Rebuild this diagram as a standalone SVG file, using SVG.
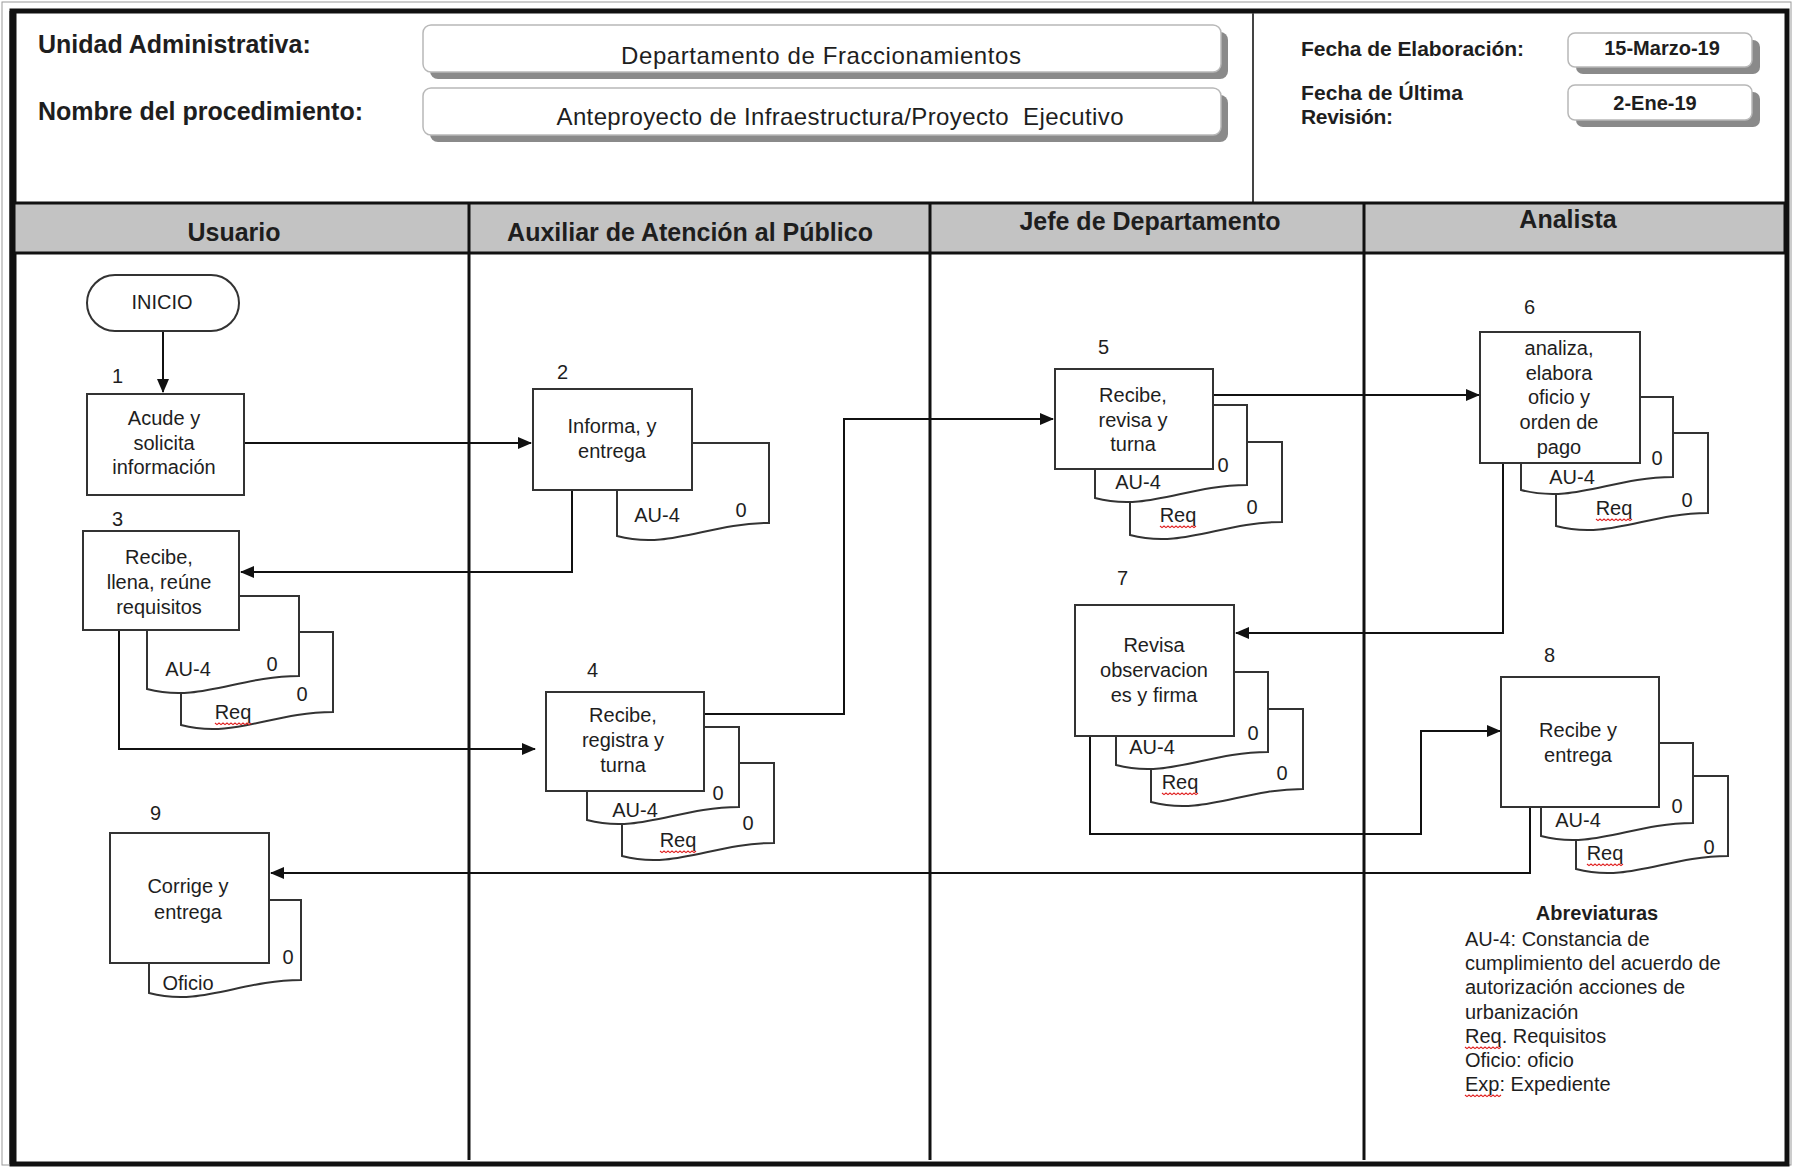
<svg xmlns="http://www.w3.org/2000/svg" width="1793" height="1167" viewBox="0 0 1793 1167">
<defs>
<marker id="arr" markerUnits="userSpaceOnUse" markerWidth="14" markerHeight="12" refX="13" refY="6" orient="auto"><path d="M0,0 L14,6 L0,12 z" fill="#111"/></marker>
<path id="sq" d="M0,0 l2,1.6 l2,-1.6 l2,1.6 l2,-1.6 l2,1.6 l2,-1.6 l2,1.6 l2,-1.6 l2,1.6 l2,-1.6 l2,1.6 l2,-1.6 l2,1.6 l2,-1.6 l2,1.6 l2,-1.6 l2,1.6 l2,-1.6"/>
</defs>
<style>
text{font-family:"Liberation Sans",Arial,sans-serif;fill:#1e1e1e}
.h{font-size:25px;font-weight:bold}
.c{text-anchor:middle}
.n{font-size:20px}
.nb{font-size:20px;font-weight:bold}
.box{fill:#fff;stroke:#333;stroke-width:2}
.doc{fill:#fff;stroke:#333;stroke-width:2}
.con{fill:none;stroke:#111;stroke-width:2}
.arr{marker-end:url(#arr)}
.sq{fill:none;stroke:#e02020;stroke-width:1.2}
.hb{fill:#fff;stroke:#b8b8b8;stroke-width:1.5}
.sh{fill:#8a8a8a}
.lane{stroke:#111;stroke-width:3}
</style>
<rect x="0" y="0" width="1793" height="1167" fill="#fff"/>
<g id="frame">
<rect x="2" y="2" width="1789" height="1163" fill="none" stroke="#9a9a9a" stroke-width="1"/>
<rect x="12" y="11" width="1775" height="1153" fill="none" stroke="#111" stroke-width="5"/>
<line x1="13" y1="11" x2="13" y2="1164" stroke="#111" stroke-width="7"/>
<line x1="1253" y1="13" x2="1253" y2="203" stroke="#444" stroke-width="2"/>
</g>
<g id="header-info">
<text class="h" x="38" y="53">Unidad Administrativa:</text>
<text class="h" x="38" y="120">Nombre del procedimiento:</text>
<rect class="sh" x="430" y="32" width="798" height="47" rx="8"/>
<rect class="hb" x="423" y="25" width="798" height="47" rx="8"/>
<text class="c" x="821" y="64" style="font-size:24px" textLength="400">Departamento de Fraccionamientos</text>
<rect class="sh" x="430" y="95" width="798" height="47" rx="8"/>
<rect class="hb" x="423" y="88" width="798" height="47" rx="8"/>
<text class="c" x="840" y="125" style="font-size:24px;white-space:pre" xml:space="preserve" textLength="567">Anteproyecto de Infraestructura/Proyecto  Ejecutivo</text>
<text x="1301" y="56" style="font-size:21px;font-weight:bold" textLength="223">Fecha de Elaboración:</text>
<text x="1301" y="100" style="font-size:21px;font-weight:bold" textLength="162">Fecha de Última</text>
<text x="1301" y="124" style="font-size:21px;font-weight:bold" textLength="92">Revisión:</text>
<rect class="sh" x="1576" y="40" width="184" height="34" rx="7"/>
<rect class="hb" x="1568" y="33" width="184" height="34" rx="7"/>
<text class="c nb" x="1662" y="55">15-Marzo-19</text>
<rect class="sh" x="1576" y="92" width="184" height="35" rx="7"/>
<rect class="hb" x="1568" y="85" width="184" height="35" rx="7"/>
<text class="c nb" x="1655" y="110">2-Ene-19</text>
</g>
<g id="lanes">
<rect x="14" y="203" width="1771" height="50" fill="#c3c3c3" stroke="#111" stroke-width="3"/>
<line class="lane" x1="469" y1="203" x2="469" y2="1160"/>
<line class="lane" x1="930" y1="203" x2="930" y2="1160"/>
<line class="lane" x1="1364" y1="203" x2="1364" y2="1160"/>
<text class="h c" x="234" y="241">Usuario</text>
<text class="h c" x="690" y="241">Auxiliar de Atención al Público</text>
<text class="h c" x="1150" y="230">Jefe de Departamento</text>
<text class="h c" x="1568" y="228">Analista</text>
</g>
<g id="connectors">
<path class="con arr" d="M163,331 V392"/>
<path class="con arr" d="M244,443 H531"/>
<path class="con arr" d="M572,490 V572 H241"/>
<path class="con arr" d="M119,630 V749 H535"/>
<path class="con arr" d="M704,714 H844 V419 H1053"/>
<path class="con arr" d="M1213,395 H1479"/>
<path class="con arr" d="M1503,463 V633 H1236"/>
<path class="con arr" d="M1090,736 V834 H1421 V731 H1500"/>
<path class="con arr" d="M1530,807 V873 H271"/>
</g>
<g id="inicio">
<rect x="87" y="275" width="152" height="56" rx="28" fill="#fff" stroke="#333" stroke-width="2"/>
<text class="n c" x="162" y="309">INICIO</text>
</g>
<g id="n1">
<text class="n" x="112" y="383">1</text>
<rect class="box" x="87" y="394" width="157" height="101"/>
<text class="n c" x="164" y="425">Acude y</text>
<text class="n c" x="164" y="450">solicita</text>
<text class="n c" x="164" y="474">información</text>
</g>
<g id="n2">
<text class="n" x="557" y="379">2</text>
<path class="doc" d="M617,443 H769 V523 C708,523 670,550 617,536 Z"/>
<text class="n c" x="657" y="522">AU-4</text>
<text class="n c" x="741" y="517">0</text>
<rect class="box" x="533" y="389" width="159" height="101"/>
<text class="n c" x="612" y="433">Informa, y</text>
<text class="n c" x="612" y="458">entrega</text>
</g>
<g id="n3">
<text class="n" x="112" y="526">3</text>
<path class="doc" d="M181,632 H333 V712 C272,712 234,739 181,725 Z"/>
<text class="n c" x="233" y="719">Req</text>
<use class="sq" href="#sq" x="215" y="723"/>
<text class="n c" x="302" y="701">0</text>
<path class="doc" d="M147,596 H299 V676 C238,676 200,703 147,689 Z"/>
<text class="n c" x="188" y="676">AU-4</text>
<text class="n c" x="272" y="671">0</text>
<rect class="box" x="83" y="531" width="156" height="99"/>
<text class="n c" x="159" y="564">Recibe,</text>
<text class="n c" x="159" y="589">llena, reúne</text>
<text class="n c" x="159" y="614">requisitos</text>
</g>
<g id="n4">
<text class="n" x="587" y="677">4</text>
<path class="doc" d="M622,763 H774 V843 C713,843 675,870 622,856 Z"/>
<text class="n c" x="678" y="847">Req</text>
<use class="sq" href="#sq" x="660" y="851"/>
<text class="n c" x="748" y="830">0</text>
<path class="doc" d="M587,727 H739 V807 C678,807 640,834 587,820 Z"/>
<text class="n c" x="635" y="817">AU-4</text>
<text class="n c" x="718" y="800">0</text>
<rect class="box" x="546" y="692" width="158" height="99"/>
<text class="n c" x="623" y="722">Recibe,</text>
<text class="n c" x="623" y="747">registra y</text>
<text class="n c" x="623" y="772">turna</text>
</g>
<g id="n5">
<text class="n" x="1098" y="354">5</text>
<path class="doc" d="M1130,442 H1282 V522 C1221,522 1183,549 1130,535 Z"/>
<text class="n c" x="1178" y="522">Req</text>
<use class="sq" href="#sq" x="1160" y="526"/>
<text class="n c" x="1252" y="514">0</text>
<path class="doc" d="M1095,405 H1247 V485 C1186,485 1148,512 1095,498 Z"/>
<text class="n c" x="1138" y="489">AU-4</text>
<text class="n c" x="1223" y="472">0</text>
<rect class="box" x="1055" y="369" width="158" height="100"/>
<text class="n c" x="1133" y="402">Recibe,</text>
<text class="n c" x="1133" y="427">revisa y</text>
<text class="n c" x="1133" y="451">turna</text>
</g>
<g id="n6">
<text class="n" x="1524" y="314">6</text>
<path class="doc" d="M1556,433 H1708 V513 C1647,513 1609,540 1556,526 Z"/>
<text class="n c" x="1614" y="515">Req</text>
<use class="sq" href="#sq" x="1596" y="519"/>
<text class="n c" x="1687" y="507">0</text>
<path class="doc" d="M1521,397 H1673 V477 C1612,477 1574,504 1521,490 Z"/>
<text class="n c" x="1572" y="484">AU-4</text>
<text class="n c" x="1657" y="465">0</text>
<rect class="box" x="1480" y="332" width="160" height="131"/>
<text class="n c" x="1559" y="355">analiza,</text>
<text class="n c" x="1559" y="380">elabora</text>
<text class="n c" x="1559" y="404">oficio y</text>
<text class="n c" x="1559" y="429">orden de</text>
<text class="n c" x="1559" y="454">pago</text>
</g>
<g id="n7">
<text class="n" x="1117" y="585">7</text>
<path class="doc" d="M1151,709 H1303 V789 C1242,789 1204,816 1151,802 Z"/>
<text class="n c" x="1180" y="789">Req</text>
<use class="sq" href="#sq" x="1162" y="793"/>
<text class="n c" x="1282" y="780">0</text>
<path class="doc" d="M1116,672 H1268 V752 C1207,752 1169,779 1116,765 Z"/>
<text class="n c" x="1152" y="754">AU-4</text>
<text class="n c" x="1253" y="740">0</text>
<rect class="box" x="1075" y="605" width="159" height="131"/>
<text class="n c" x="1154" y="652">Revisa</text>
<text class="n c" x="1154" y="677">observacion</text>
<text class="n c" x="1154" y="702">es y firma</text>
</g>
<g id="n8">
<text class="n" x="1544" y="662">8</text>
<path class="doc" d="M1576,776 H1728 V856 C1667,856 1629,883 1576,869 Z"/>
<text class="n c" x="1605" y="860">Req</text>
<use class="sq" href="#sq" x="1587" y="864"/>
<text class="n c" x="1709" y="854">0</text>
<path class="doc" d="M1541,743 H1693 V823 C1632,823 1594,850 1541,836 Z"/>
<text class="n c" x="1578" y="827">AU-4</text>
<text class="n c" x="1677" y="813">0</text>
<rect class="box" x="1501" y="677" width="158" height="130"/>
<text class="n c" x="1578" y="737">Recibe y</text>
<text class="n c" x="1578" y="762">entrega</text>
</g>
<g id="n9">
<text class="n" x="150" y="820">9</text>
<path class="doc" d="M149,900 H301 V980 C240,980 202,1007 149,993 Z"/>
<text class="n c" x="188" y="990">Oficio</text>
<text class="n c" x="288" y="964">0</text>
<rect class="box" x="110" y="833" width="159" height="130"/>
<text class="n c" x="188" y="893">Corrige y</text>
<text class="n c" x="188" y="919">entrega</text>
</g>
<g id="abreviaturas">
<text class="nb c" x="1597" y="920">Abreviaturas</text>
<text class="n" x="1465" y="946">AU-4: Constancia de</text>
<text class="n" x="1465" y="970">cumplimiento del acuerdo de</text>
<text class="n" x="1465" y="994">autorización acciones de</text>
<text class="n" x="1465" y="1019">urbanización</text>
<text class="n" x="1465" y="1043">Req. Requisitos</text>
<use class="sq" href="#sq" x="1465" y="1047"/>
<text class="n" x="1465" y="1067">Oficio: oficio</text>
<text class="n" x="1465" y="1091">Exp: Expediente</text>
<use class="sq" href="#sq" x="1465" y="1095"/>
</g>
</svg>
